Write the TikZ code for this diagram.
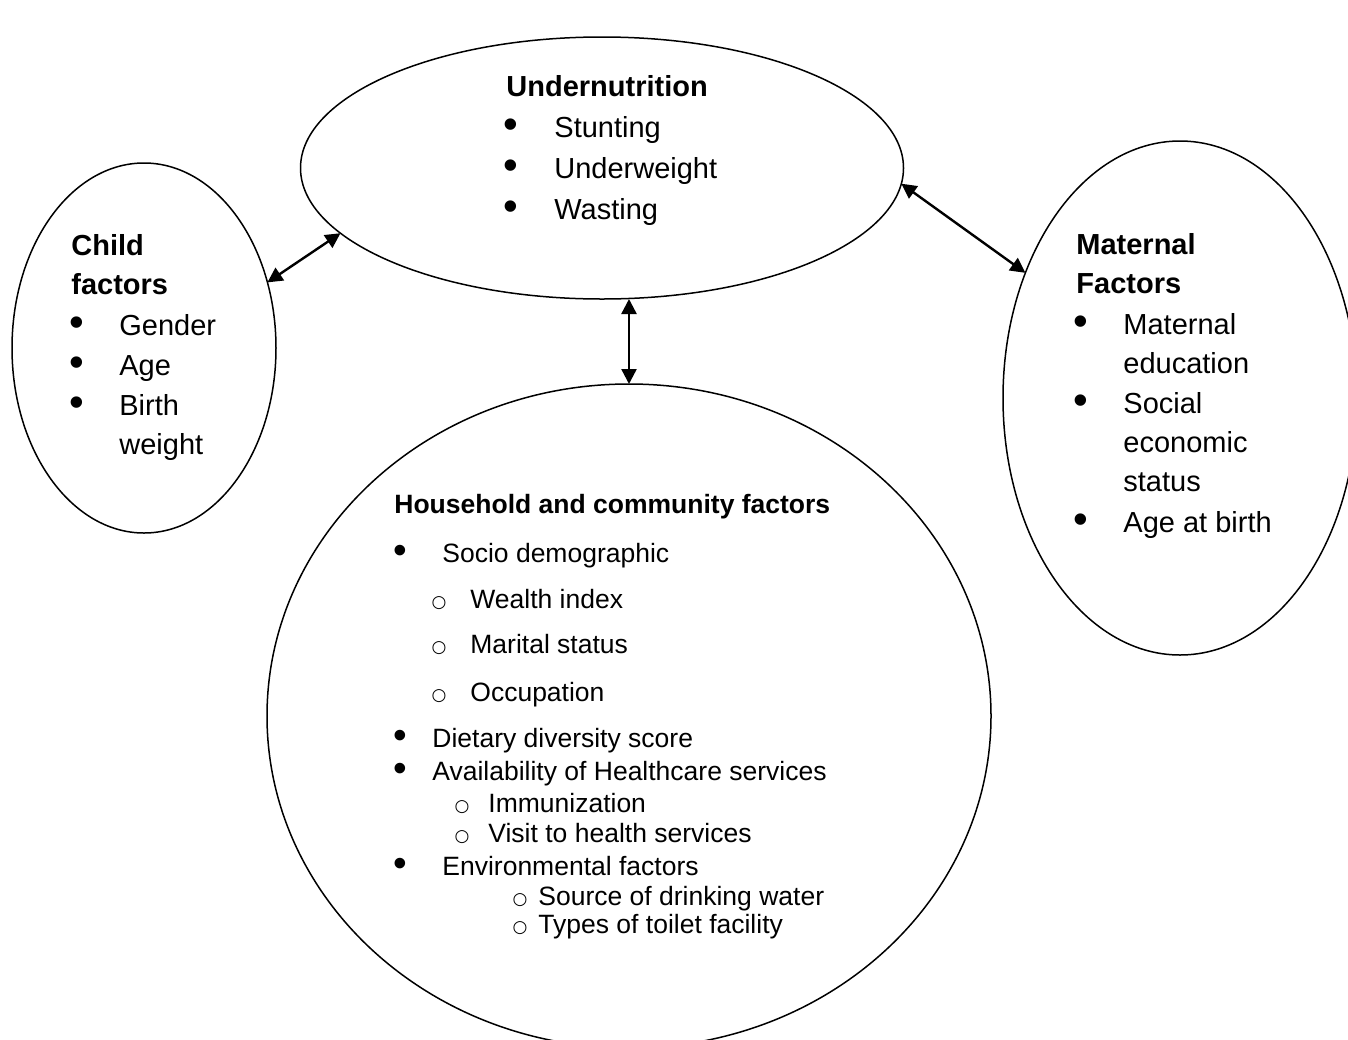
\documentclass[tikz,border=0pt]{standalone}
\usepackage{fontspec}
\setmainfont{Liberation Sans}
\newfontfamily\ringfont{DejaVu Sans}
\usetikzlibrary{shapes.geometric,arrows.meta}
\begin{document}
\begin{tikzpicture}[x=0.5pt,y=-0.5pt,
  ring/.style={draw, ellipse, line width=0.75pt, inner sep=0pt, outer sep=0pt},
  txt/.style={anchor=base west, inner sep=0pt, font=\fontsize{14.5}{17}\selectfont},
  hd/.style={anchor=base west, inner sep=0pt, font=\fontsize{14.5}{17}\selectfont\bfseries},
  bul/.style={anchor=center, inner sep=0pt, font=\fontsize{21}{21}\selectfont},
  htxt/.style={anchor=base west, inner sep=0pt, font=\fontsize{13.25}{16}\selectfont},
  hhd/.style={anchor=base west, inner sep=0pt, font=\fontsize{13.25}{16}\selectfont\bfseries},
  hbul/.style={anchor=center, inner sep=0pt, font=\fontsize{19.5}{20}\selectfont},
  hsub/.style={anchor=center, inner sep=0pt, font=\ringfont\fontsize{8.5}{9}\selectfont},
  link/.style={{Triangle[length=7.5pt,width=7.5pt]}-{Triangle[length=7.5pt,width=7.5pt]}, line width=1.2pt}]
\useasboundingbox (0,0) rectangle (1348,1039);

% shapes
\node[ring, minimum width=301.5pt, minimum height=131pt] (top) at (602,168) {};
\node[ring, minimum width=132pt, minimum height=185pt] (child) at (144,348) {};
\node[ring, minimum width=177pt, minimum height=257pt] (mat) at (1180,398) {};
\node[ring, minimum width=362pt, minimum height=332pt] (house) at (629,716) {};

% connectors
\draw[link] (child.28.9) -- (top.194);
\draw[link] (top.357) -- (mat.141.5);
\draw[link] (house.north |- top.south) -- (house.north);

% top ellipse text
\node[hd] (t0) at (506,96) {Undernutrition};
\node[bul] (tb1) at (511,128.5) {•};
\node[txt] (t1) at (554,137) {Stunting};
\node[bul] (tb2) at (511,169.5) {•};
\node[txt] (t2) at (554,178) {Underweight};
\node[bul] (tb3) at (511,210.5) {•};
\node[txt] (t3) at (554,219) {Wasting};

% child text
\node[hd] (c0) at (71,255) {Child};
\node[hd] (c1) at (71,294) {factors};
\node[bul] (cb1) at (77,326.5) {•};
\node[txt] (c2) at (119,335) {Gender};
\node[bul] (cb2) at (77,366.5) {•};
\node[txt] (c3) at (119,375) {Age};
\node[bul] (cb3) at (77,406.5) {•};
\node[txt] (c4) at (119,415) {Birth};
\node[txt] (c5) at (119,454) {weight};

% maternal text
\node[hd] (m0) at (1076,254) {Maternal};
\node[hd] (m1) at (1076,293) {Factors};
\node[bul] (mb1) at (1081,325.5) {•};
\node[txt] (m2) at (1123,334) {Maternal};
\node[txt] (m3) at (1123,373) {education};
\node[bul] (mb2) at (1081,404.5) {•};
\node[txt] (m4) at (1123,413) {Social};
\node[txt] (m5) at (1123,452) {economic};
\node[txt] (m6) at (1123,491) {status};
\node[bul] (mb3) at (1081,523.5) {•};
\node[txt] (m7) at (1123,532) {Age at birth};

% household text
\node[hhd] (h0) at (394,513) {Household and community factors};
\node[hbul] (hb1) at (400,554.5) {•};
\node[htxt] (h1) at (442,562) {Socio demographic};
\node[hsub] (hs1) at (439,603) {○};
\node[htxt] (h2) at (470,608) {Wealth index};
\node[hsub] (hs2) at (439,648) {○};
\node[htxt] (h3) at (470,653) {Marital status};
\node[hsub] (hs3) at (439,696) {○};
\node[htxt] (h4) at (470,701) {Occupation};
\node[hbul] (hb2) at (400,739.5) {•};
\node[htxt] (h5) at (432,747) {Dietary diversity score};
\node[hbul] (hb3) at (400,772.5) {•};
\node[htxt] (h6) at (432,780) {Availability of Healthcare services};
\node[hsub] (hs4) at (462,807) {○};
\node[htxt] (h7) at (488,812) {Immunization};
\node[hsub] (hs5) at (462,837) {○};
\node[htxt] (h8) at (488,842) {Visit to health services};
\node[hbul] (hb4) at (400,867.5) {•};
\node[htxt] (h9) at (442,875) {Environmental factors};
\node[hsub] (hs6) at (520,900) {○};
\node[htxt] (h10) at (538,905) {Source of drinking water};
\node[hsub] (hs7) at (520,928) {○};
\node[htxt] (h11) at (538,933) {Types of toilet facility};
\end{tikzpicture}
\end{document}
